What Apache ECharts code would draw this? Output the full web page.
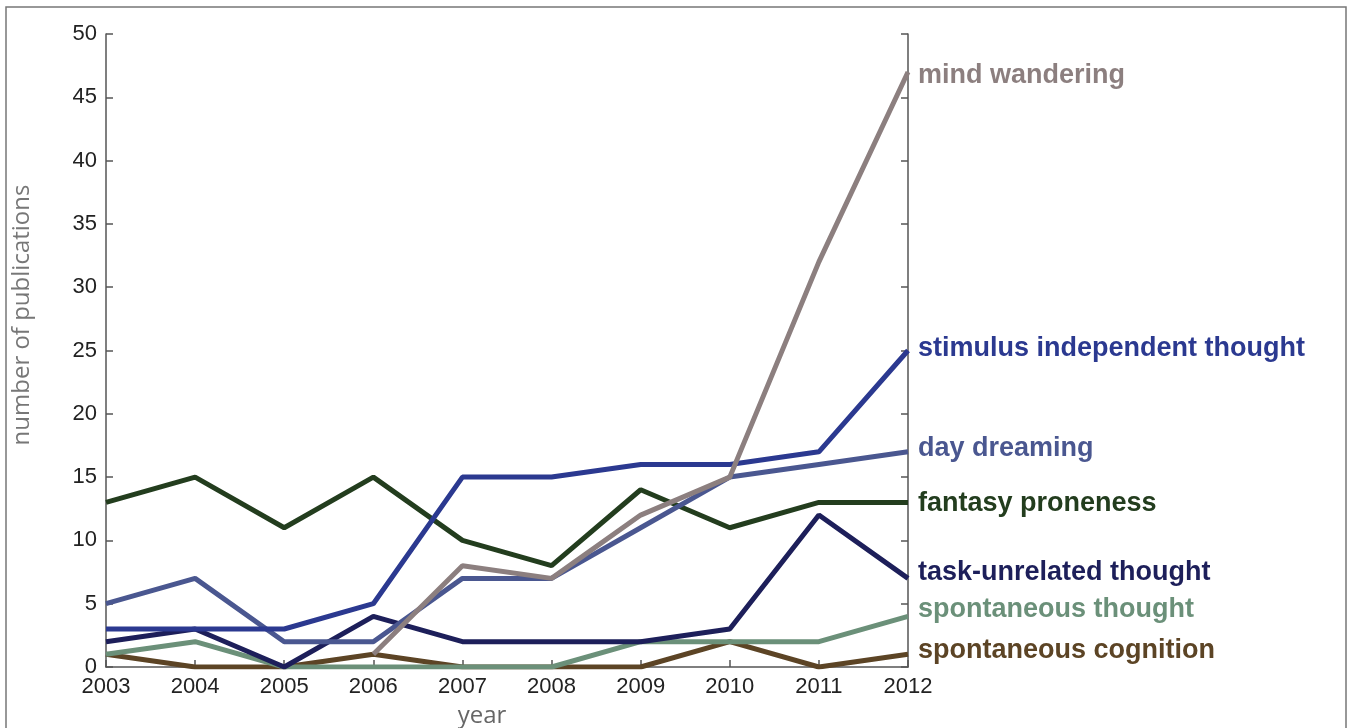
<!DOCTYPE html>
<html><head><meta charset="utf-8">
<script src="https://cdn.jsdelivr.net/npm/echarts@6/dist/echarts.min.js"></script>
<style>html,body{margin:0;padding:0;background:#fff}#c{width:1348px;height:728px}</style>
</head><body><div id="c"></div>
<script>
const years = ['2003','2004','2005','2006','2007','2008','2009','2010','2011','2012'];
const yTicks = [0,5,10,15,20,25,30,35,40,45,50];
const mindWandering = [null,null,null,1,8,7,12,15,32,47];
const stimulusIndependent = [3,3,3,5,15,15,16,16,17,25];
const dayDreaming = [5,7,2,2,7,7,11,15,16,17];
const fantasyProneness = [13,15,11,15,10,8,14,11,13,13];
const taskUnrelated = [2,3,0,4,2,2,2,3,12,7];
const spontaneousThought = [1,2,0,0,0,0,2,2,2,4];
const spontaneousCognition = [1,0,0,1,0,0,0,2,0,1];

const seriesDefs = [
  {name:'spontaneous cognition', data:spontaneousCognition, color:'#5c4425', dy:-4},
  {name:'spontaneous thought', data:spontaneousThought, color:'#6b9079', dy:-7},
  {name:'task-unrelated thought', data:taskUnrelated, color:'#1d1f5a', dy:-6},
  {name:'fantasy proneness', data:fantasyProneness, color:'#233d1e', dy:1},
  {name:'day dreaming', data:dayDreaming, color:'#4a5790', dy:-3},
  {name:'stimulus independent thought', data:stimulusIndependent, color:'#2b3990', dy:-2},
  {name:'mind wandering', data:mindWandering, color:'#8c7f7f', dy:4}
];

const chart = echarts.init(document.getElementById('c'));
const axisLine = {show:true, lineStyle:{color:'#555', width:1.5}};
const tick = {show:true, inside:true, length:7, lineStyle:{color:'#555',width:1.5}};
chart.setOption({
  animation:false,
  grid:{left:106, right:440, top:34, bottom:61},
  xAxis:{type:'category', data:years, boundaryGap:false,
    axisLine:axisLine, axisTick:tick,
    axisLabel:{color:'#222', fontFamily:'Liberation Sans', fontSize:22, margin:9},
    splitLine:{show:false}},
  yAxis:[
    {type:'value', min:0, max:50, interval:5,
     axisLine:axisLine, axisTick:tick,
     axisLabel:{color:'#222', fontFamily:'Liberation Sans', fontSize:22, margin:9},
     splitLine:{show:false}},
    {type:'value', min:0, max:50, interval:5, position:'right',
     axisLine:axisLine, axisTick:tick,
     axisLabel:{show:false}, splitLine:{show:false}}
  ],
  series: seriesDefs.map(s => ({
    name:s.name, type:'line', data:s.data, yAxisIndex:0,
    symbol:'none', lineStyle:{color:s.color, width:5}, itemStyle:{color:s.color},
    endLabel:{show:true, formatter:s.name, color:s.color, fontFamily:'Liberation Sans',
      fontWeight:'bold', fontSize:27, distance:10, offset:[0, s.dy]}
  })),
  graphic:[
    {type:'rect', shape:{x:6, y:7, width:1340, height:730}, style:{fill:'none', stroke:'#777', lineWidth:1.5}, silent:true},
    {type:'text', x:22, y:315, rotation:Math.PI/2, style:{text:'number of publications', fill:'#777',
      font:'24px "Open Sans"', textAlign:'center', textVerticalAlign:'middle'}},
    {type:'text', x:482, y:716, style:{text:'year', fill:'#666', font:'24px "Open Sans"', textAlign:'center', textVerticalAlign:'middle'}}
  ]
});
</script></body></html>
